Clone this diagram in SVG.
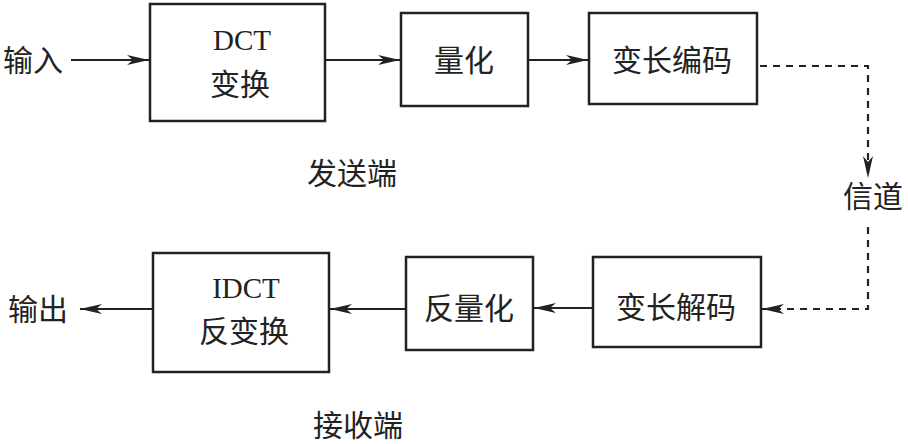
<svg xmlns="http://www.w3.org/2000/svg" width="908" height="444" viewBox="0 0 908 444">
<defs>
<style>
.box{fill:#fff;stroke:#222;stroke-width:2.5}
.t{font-family:"Liberation Serif","Noto Sans CJK SC",serif;font-size:30px;fill:#222;text-anchor:middle;dominant-baseline:central}
.e{font-size:29px}
.c{stroke:#222;stroke-width:2.2;fill:none}
.d{stroke:#222;stroke-width:2.2;fill:none;stroke-dasharray:7,6}
</style>
<marker id="ah" viewBox="0 0 22 10" refX="22" refY="5" markerWidth="22" markerHeight="10" markerUnits="userSpaceOnUse" orient="auto">
<path d="M0,0 L22,5 L0,10 L6,5 Z" fill="#222"/>
</marker>
</defs>
<rect width="908" height="444" fill="#fff"/>
<g id="connectors">
<line class="c" x1="71" y1="60" x2="149" y2="60" marker-end="url(#ah)"/>
<line class="c" x1="325" y1="60" x2="400" y2="60" marker-end="url(#ah)"/>
<line class="c" x1="528" y1="60" x2="588" y2="60" marker-end="url(#ah)"/>
<polyline class="d" points="760,66 868,66 868,178" marker-end="url(#ah)"/>
<polyline class="d" points="868,227 868,309 762,309" marker-end="url(#ah)"/>
<line class="c" x1="593" y1="308" x2="534" y2="308" marker-end="url(#ah)"/>
<line class="c" x1="406" y1="309" x2="330" y2="309" marker-end="url(#ah)"/>
<line class="c" x1="153" y1="309" x2="80" y2="309" marker-end="url(#ah)"/>
</g>
<g id="input"><text class="t" x="33" y="60">输入</text></g>
<g id="dct"><rect class="box" x="150" y="4" width="175" height="117"/><text class="t e" x="242" y="40">DCT</text><text class="t" x="240" y="84">变换</text></g>
<g id="quant"><rect class="box" x="401" y="13" width="127" height="93"/><text class="t" x="464" y="60">量化</text></g>
<g id="vlc"><rect class="box" x="589" y="13" width="168" height="91"/><text class="t" x="672" y="60">变长编码</text></g>
<g id="sender"><text class="t" x="352" y="173">发送端</text></g>
<g id="channel"><text class="t" x="873" y="196">信道</text></g>
<g id="vld"><rect class="box" x="593" y="257" width="168" height="90"/><text class="t" x="676" y="307">变长解码</text></g>
<g id="iquant"><rect class="box" x="406" y="257" width="127" height="93"/><text class="t" x="469" y="308">反量化</text></g>
<g id="idct"><rect class="box" x="153" y="253" width="176" height="119"/><text class="t e" x="246" y="288">IDCT</text><text class="t" x="244" y="331">反变换</text></g>
<g id="output"><text class="t" x="38" y="309">输出</text></g>
<g id="receiver"><text class="t" x="358" y="425">接收端</text></g>
</svg>
